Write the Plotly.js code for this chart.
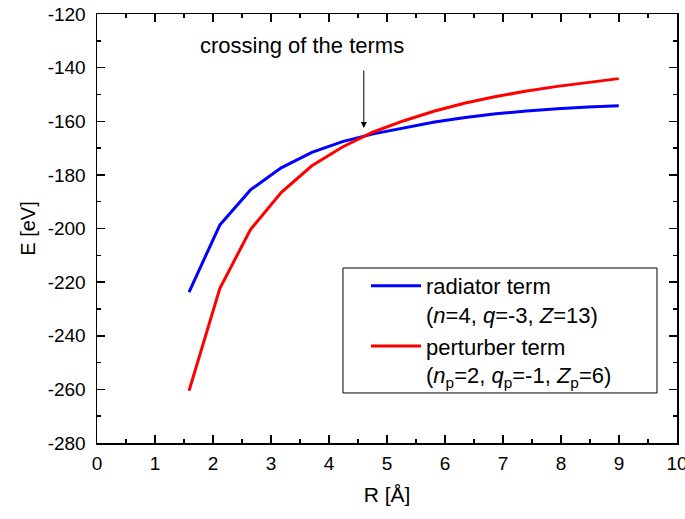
<!DOCTYPE html>
<html>
<head>
<meta charset="utf-8">
<script src="https://cdn.plot.ly/plotly-3.0.1.min.js"></script>
<style>html,body{margin:0;padding:0;background:#fff;}#chart{width:685px;height:519px;}</style>
</head>
<body>
<div id="chart"></div>
<script>
// R in Å (3..17 bohr)
const R = [1.587, 2.117, 2.646, 3.175, 3.704, 4.233, 4.763, 5.292, 5.821, 6.350, 6.879, 7.408, 7.938, 8.467, 8.996];
const radiatorE = [-223.7, -198.7, -185.6, -177.4, -171.6, -167.6, -164.7, -162.4, -160.3, -158.6, -157.2, -156.2, -155.3, -154.7, -154.2];
const perturberE = [-260.5, -222.4, -200.4, -186.6, -176.6, -169.6, -164.0, -159.8, -156.2, -153.2, -150.8, -148.7, -147.0, -145.5, -144.1];
const xTicks = [0, 1, 2, 3, 4, 5, 6, 7, 8, 9, 10];
const yTicks = [-280, -260, -240, -220, -200, -180, -160, -140, -120];
const seriesNames = ['radiator term<br>(<i>n</i>=4, <i>q</i>=-3, <i>Z</i>=13)', 'perturber term<br>(<i>n</i><sub>p</sub>=2, <i>q</i><sub>p</sub>=-1, <i>Z</i><sub>p</sub>=6)'];
const annotationText = 'crossing of the terms';
const crossX = 4.6;

const font = 'Liberation Sans, Arial, sans-serif';
const traces = [
  {x: R, y: radiatorE, mode: 'lines', name: seriesNames[0], line: {color: '#0000ff', width: 3}},
  {x: R, y: perturberE, mode: 'lines', name: seriesNames[1], line: {color: '#ff0000', width: 3}}
];
const axisCommon = {
  showgrid: false, zeroline: false, showline: true, linecolor: '#000', linewidth: 1.5,
  mirror: 'allticks', ticks: 'inside', ticklen: 8, tickwidth: 1.5, tickcolor: '#000',
  tickfont: {family: font, size: 19, color: '#000'}, ticklabeloverflow: 'allow', automargin: false
};
const layout = {
  width: 685, height: 519,
  margin: {l: 97, r: 8, t: 14, b: 76},
  paper_bgcolor: '#fff', plot_bgcolor: '#fff',
  font: {family: font, color: '#000'},
  xaxis: Object.assign({}, axisCommon, {
    range: [0, 10], tickmode: 'array', tickvals: xTicks, ticktext: xTicks.map(String), ticklabelstandoff: 3,
    minor: {dtick: 0.5, tick0: 0, ticks: 'inside', ticklen: 4, tickwidth: 1.5, tickcolor: '#000'},
    title: {text: 'R [Å]', font: {family: font, size: 21}, standoff: 14}
  }),
  yaxis: Object.assign({}, axisCommon, {
    range: [-280, -120], tickmode: 'array', tickvals: yTicks, ticktext: yTicks.map(String), ticklabelstandoff: 6,
    minor: {dtick: 10, tick0: -280, ticks: 'inside', ticklen: 4, tickwidth: 1.5, tickcolor: '#000'},
    title: {text: 'E [eV]', font: {family: font, size: 20}, standoff: 6}
  }),
  legend: {
    x: 0.4638, y: 0.415, xanchor: 'left', yanchor: 'top',
    borderwidth: 0, bgcolor: 'rgba(0,0,0,0)',
    font: {family: font, size: 22, color: '#000'},
    valign: 'top', itemwidth: 50, tracegroupgap: 0
  },
  showlegend: true,
  shapes: [
    {type: 'rect', xref: 'paper', yref: 'paper', x0: 0.4241, x1: 0.9655, y0: 0.1166, y1: 0.4079,
     line: {color: '#000', width: 1}, fillcolor: 'rgba(0,0,0,0)', layer: 'above'}
  ],
  annotations: [
    {x: 3.53, y: -131.6, xref: 'x', yref: 'y', text: annotationText, showarrow: false,
     font: {family: font, size: 22, color: '#000'}},
    {x: crossX, y: -162.5, ax: crossX, ay: -140.5, xref: 'x', yref: 'y', axref: 'x', ayref: 'y',
     text: '', showarrow: true, arrowhead: 2, arrowsize: 1.2, arrowwidth: 1, arrowcolor: '#000'}
  ]
};
Plotly.newPlot('chart', traces, layout, {displayModeBar: false, staticPlot: true});
</script>
</body>
</html>
